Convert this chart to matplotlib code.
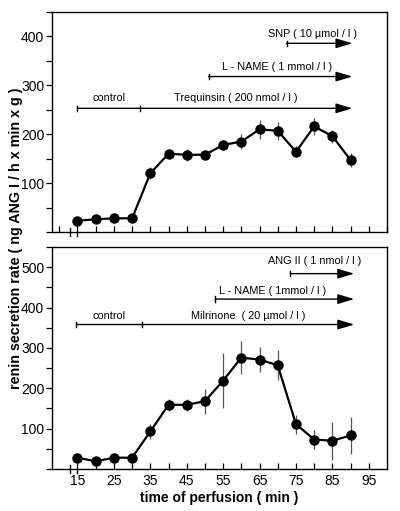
import numpy as np
import matplotlib.pyplot as plt
from matplotlib.ticker import MultipleLocator

plt.rcParams['font.family'] = ['Liberation Sans', 'DejaVu Sans']

# time points (min)
tiempo = [15, 20, 25, 30, 35, 40, 45, 50, 55, 60, 65, 70, 75, 80, 85, 90]

# Trequinsin experiment
treq_media = [23, 26, 28, 28, 120, 160, 158, 158, 178, 185, 210, 207, 164, 216, 196, 147]
treq_error = [4, 4, 4, 4, 12, 5, 12, 5, 10, 15, 19, 18, 11, 17, 13, 14]

# Milrinone experiment
milr_media = [28, 19, 28, 28, 93, 159, 159, 168, 219, 276, 271, 257, 111, 73, 70, 83]
milr_error = [5, 4, 4, 4, 18, 15, 15, 31, 69, 41, 31, 37, 24, 24, 47, 46]

# protocol bars: control label, treatment label, start, split, end, y, text y, treatment text x
treq_barras = [
    ('control', 'Trequinsin ( 200 nmol / l )', 15, 32.3, 90.5, 253, 275, 58.5),
]
treq_flechas = [
    ('L - NAME ( 1 mmol / l )', 51, 90.5, 318, 338, 69.8),
    ('SNP ( 10 µmol / l )', 72.4, 90.5, 386, 405, 79.6),
]
milr_barras = [
    ('control', 'Milrinone  ( 20 µmol / l )', 14.7, 32.8, 91, 358, 380, 61.8),
]
milr_flechas = [
    ('L - NAME ( 1mmol / l )', 52.8, 91, 421, 442, 68.7),
    ('ANG II ( 1 nmol / l )', 73.4, 91, 484, 516, 80),
]

TXT = 7.8


def flecha(ax, x0, x1, y, ymax):
    ax.annotate('', xy=(x1, y), xytext=(x0, y),
                arrowprops=dict(arrowstyle='-|>,head_length=1.0,head_width=0.3',
                                color='black', lw=1.0, shrinkA=0, shrinkB=0))
    h = ymax * 0.012
    ax.plot([x0, x0], [y - h, y + h], color='black', lw=1.0)


def dibujar(ax, medias, errores, barras, flechas, ymax):
    ax.errorbar(tiempo, medias, yerr=errores, color='black', lw=1.6,
                marker='o', markersize=6.5, ecolor='#555555', elinewidth=0.9,
                capsize=0, zorder=3)
    for ctrl, trat, x0, xm, x1, y, yt, xt in barras:
        flecha(ax, x0, x1, y, ymax)
        h = ymax * 0.012
        ax.plot([xm, xm], [y - h, y + h], color='black', lw=1.0)
        ax.text((x0 + xm) / 2, yt, ctrl, ha='center', va='center', fontsize=TXT)
        ax.text(xt, yt, trat, ha='center', va='center', fontsize=TXT)
    for txt, x0, x1, y, yt, xt in flechas:
        flecha(ax, x0, x1, y, ymax)
        ax.text(xt, yt, txt, ha='center', va='center', fontsize=TXT)

    ax.set_xlim(8, 100)
    ax.set_ylim(0, ymax)
    ax.xaxis.set_major_locator(MultipleLocator(5))
    ax.yaxis.set_major_locator(MultipleLocator(100))
    ax.yaxis.set_minor_locator(MultipleLocator(50))
    ax.tick_params(axis='x', direction='in', length=4, width=0.9, labelsize=10)
    ax.tick_params(axis='y', which='both', direction='out', length=4, width=0.9,
                   labelsize=10, pad=1.5)
    for s in ax.spines.values():
        s.set_linewidth(1.0)
    # axis break marks
    ax.plot([12.9, 12.9], [-ymax * 0.018, ymax * 0.018], color='black', lw=1.0,
            clip_on=False)
    ax.plot([15, 15], [-ymax * 0.018, 0], color='black', lw=1.0, clip_on=False)


fig = plt.figure(figsize=(4.0, 5.11), dpi=100)
ax1 = fig.add_axes([0.13, 0.546, 0.8375, 0.4305])
ax2 = fig.add_axes([0.13, 0.0822, 0.8375, 0.4344])

dibujar(ax1, treq_media, treq_error, treq_barras, treq_flechas, 450)
dibujar(ax2, milr_media, milr_error, milr_barras, milr_flechas, 550)

ax1.set_yticks([100, 200, 300, 400])
ax1.set_xticklabels([])
ax2.set_yticks([100, 200, 300, 400, 500])
ax2.set_xticks(range(15, 100, 5))
ax2.set_xticklabels([str(t) if t % 10 == 5 else '' for t in range(15, 100, 5)])
ax2.set_xlabel('time of perfusion ( min )', fontsize=10, fontweight='bold',
               labelpad=2)

fig.text(0.04, 0.534, 'renin secretion rate ( ng ANG I / h x min x g )',
         rotation=90, ha='center', va='center', fontsize=10.3, fontweight='bold')

fig.savefig('out.png', dpi=100)
